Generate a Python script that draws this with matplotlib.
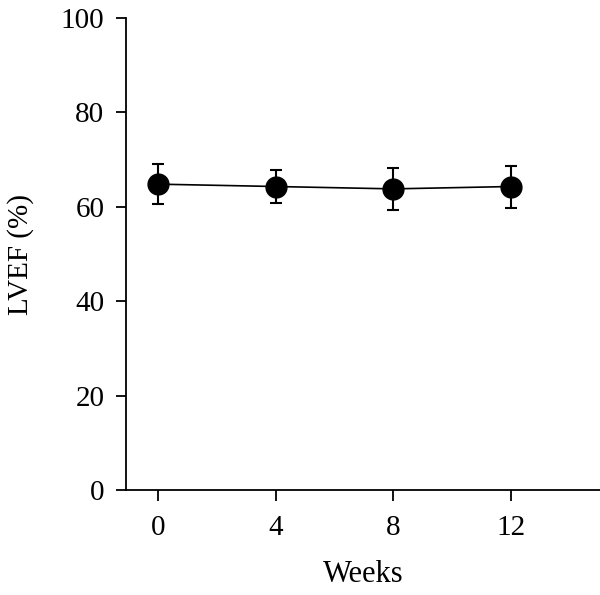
import matplotlib.pyplot as plt

# LVEF over time
weeks = [0, 4, 8, 12]
lvef = [64.8, 64.3, 63.8, 64.3]
lvef_err = [4.3, 3.4, 4.4, 4.45]
x_ticks = [0, 4, 8, 12]
y_ticks = [0, 20, 40, 60, 80, 100]

plt.rcParams['font.family'] = ['Liberation Serif', 'DejaVu Serif']

fig = plt.figure(figsize=(6, 5.95), dpi=100)
ax = fig.add_axes([0.21, 0.1765, 0.79, 0.7932])

ax.errorbar(weeks, lvef, yerr=lvef_err, color='black', marker='o',
            markersize=15, linewidth=1.2, elinewidth=1.5, capsize=4.5,
            capthick=1.5)

ax.set_xlim(-1.09, 15.03)
ax.set_ylim(0, 100)
ax.set_xticks(x_ticks)
ax.set_yticks(y_ticks)

for side in ['top', 'right']:
    ax.spines[side].set_visible(False)
for side in ['left', 'bottom']:
    ax.spines[side].set_linewidth(1.3)

ax.tick_params(axis='both', direction='out', width=1.3, labelsize=21)
ax.tick_params(axis='y', length=7.5, pad=8)
ax.tick_params(axis='x', length=8, pad=10)

ax.set_xlabel('Weeks', fontsize=22, labelpad=14)
ax.set_ylabel('LVEF (%)', fontsize=21, labelpad=19)

fig.savefig('out.png', dpi=100)
